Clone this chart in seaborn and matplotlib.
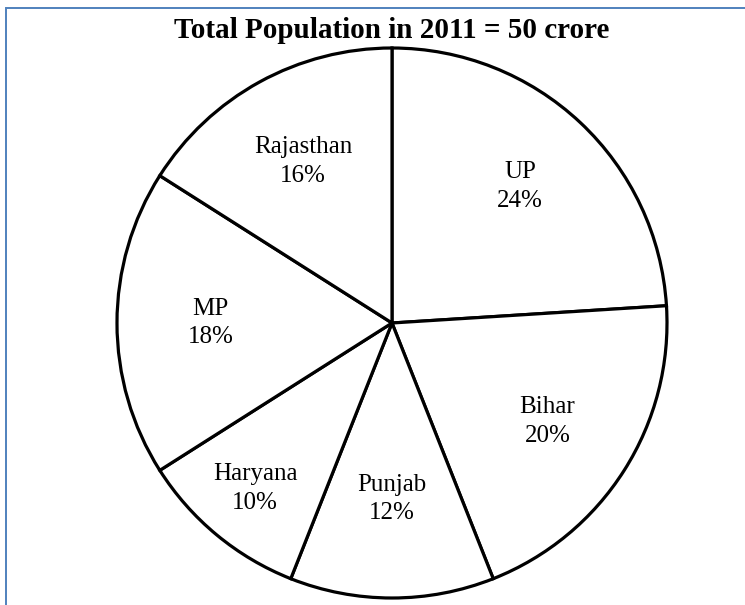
import matplotlib
matplotlib.use("Agg")
import matplotlib.pyplot as plt
import numpy as np
import seaborn as sns

sns.set_theme(style="white")
plt.rcParams["font.family"] = ["Liberation Serif", "DejaVu Serif"]

states = ["UP", "Bihar", "Punjab", "Haryana", "MP", "Rajasthan"]
shares = [24, 20, 12, 10, 18, 16]
label_radius = [0.68, 0.67, 0.64, 0.78, 0.66, 0.67]
title = "Total Population in 2011 = 50 crore"

W, H = 745, 605
fig = plt.figure(figsize=(W / 100, H / 100), dpi=100)
ax = fig.add_axes([0, 0, 1, 1])

cx, cy, r = 392, H - 323, 275
wedges, _ = ax.pie(shares, startangle=90, counterclock=False, center=(cx, cy),
                   radius=r, colors=["white"] * len(shares),
                   wedgeprops=dict(edgecolor="black", linewidth=2.3))
ax.set_xlim(0, W)
ax.set_ylim(0, H)
ax.set_aspect("auto")
ax.axis("off")

for w, name, pct, k in zip(wedges, states, shares, label_radius):
    mid = np.deg2rad((w.theta1 + w.theta2) / 2)
    ax.text(cx + k * r * np.cos(mid), cy + k * r * np.sin(mid), f"{name}\n{pct}%",
            ha="center", va="center", fontsize=18, linespacing=1.4, color="black")

ax.text(392, H - 30, title, ha="center", va="center", fontsize=21,
        fontweight="bold", color="black")

# frame lines along the top and left edges
ax.plot([5.5, 5.5, W], [0, H - 7.5, H - 7.5], color="#4F81BD", linewidth=1.4,
        solid_joinstyle="miter")

fig.savefig("out.png", dpi=100)
